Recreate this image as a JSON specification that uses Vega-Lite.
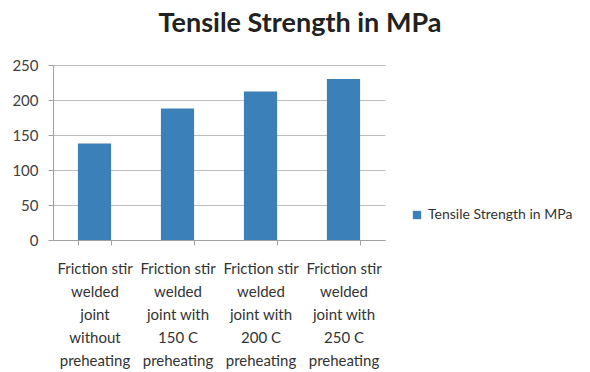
{
  "$schema": "https://vega.github.io/schema/vega-lite/v6.json",
  "width": 332,
  "height": 175,
  "autosize": {"type": "none"},
  "padding": {"left": 53, "top": 65, "right": 205, "bottom": 132},
  "background": "white",
  "title": {
    "text": "Tensile Strength in MPa",
    "font": "Lato",
    "fontSize": 27,
    "fontWeight": "bold",
    "color": "#222222",
    "anchor": "middle",
    "frame": "group",
    "dx": 81,
    "offset": 20
  },
  "data": {
    "values": [
      {"condition": "Friction stir|welded|joint|without|preheating", "strength": 138, "series": "Tensile Strength in MPa"},
      {"condition": "Friction stir|welded|joint  with|150 C|preheating", "strength": 188, "series": "Tensile Strength in MPa"},
      {"condition": "Friction stir|welded|joint  with|200 C|preheating", "strength": 212, "series": "Tensile Strength in MPa"},
      {"condition": "Friction stir|welded|joint  with|250 C|preheating", "strength": 230, "series": "Tensile Strength in MPa"}
    ]
  },
  "mark": {"type": "bar"},
  "encoding": {
    "x": {
      "field": "condition",
      "type": "nominal",
      "sort": null,
      "title": null,
      "scale": {"paddingInner": 0.6, "paddingOuter": 0.3},
      "axis": {
        "labelAngle": 0,
        "labelExpr": "split(datum.label, '|')",
        "labelFont": "Lato",
        "labelFontSize": 15,
        "labelColor": "#333333",
        "labelLineHeight": 23,
        "labelPadding": 16,
        "labelBaseline": "top",
        "tickBand": "extent",
        "tickSize": 5,
        "tickColor": "#a0a0a0",
        "domainColor": "#a0a0a0",
        "labelLimit": 0
      }
    },
    "y": {
      "field": "strength",
      "type": "quantitative",
      "title": null,
      "scale": {"domain": [0, 250]},
      "axis": {
        "values": [0, 50, 100, 150, 200, 250],
        "labelFont": "Lato",
        "labelFontSize": 15,
        "labelColor": "#404040",
        "labelPadding": 10,
        "tickSize": 5,
        "tickColor": "#a0a0a0",
        "domainColor": "#a0a0a0",
        "gridColor": "#bdbdbd"
      }
    },
    "color": {
      "field": "series",
      "type": "nominal",
      "scale": {"range": ["#3c80ba"]},
      "legend": {
        "title": null,
        "orient": "none",
        "legendX": 357,
        "legendY": 143,
        "symbolType": "square",
        "symbolSize": 70,
        "labelFont": "Lato",
        "labelFontSize": 14,
        "labelColor": "#333333",
        "labelOffset": 4
      }
    }
  },
  "config": {"view": {"stroke": null}}
}
